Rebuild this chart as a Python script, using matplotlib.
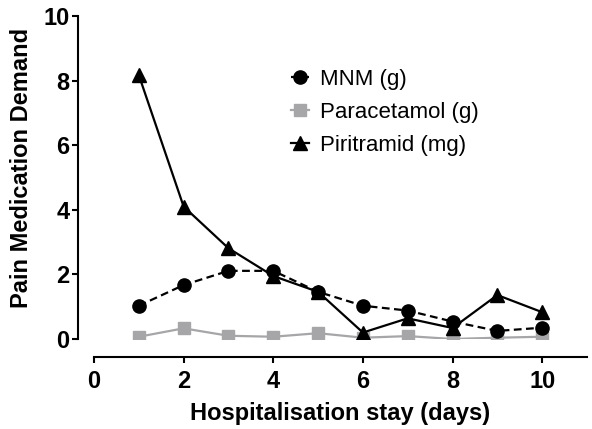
import matplotlib.pyplot as plt

plt.rcParams['font.family'] = ['Liberation Sans', 'DejaVu Sans']

days = [1, 2, 3, 4, 5, 6, 7, 8, 9, 10]
mnm = [1.03, 1.67, 2.11, 2.11, 1.46, 1.03, 0.88, 0.54, 0.25, 0.35]
paracetamol = [0.07, 0.33, 0.10, 0.07, 0.18, 0.04, 0.09, 0.0, 0.04, 0.07]
piritramid = [8.17, 4.10, 2.81, 1.95, 1.46, 0.20, 0.64, 0.34, 1.36, 0.83]

W, H = 592, 429
fig = plt.figure(figsize=(W / 100, H / 100), dpi=100)
ax = fig.add_axes([94 / W, (H - 339) / H, (587 - 94) / W, (339 - 16) / H])

ax.plot(days, mnm, color='black', ls=(0, (3.5, 2)), lw=1.6, marker='o',
        ms=9.5, label='MNM (g)', zorder=3)
ax.plot(days, paracetamol, color='#a6a6a8', lw=1.6, marker='s',
        ms=9, label='Paracetamol (g)', zorder=2)
ax.plot(days, piritramid, color='black', lw=1.6, marker='^',
        ms=9.5, label='Piritramid (mg)', zorder=4)

ax.set_xlim(0, 11)
ax.set_ylim(0, 10)
ax.set_xticks([0, 2, 4, 6, 8, 10])
ax.set_yticks([0, 2, 4, 6, 8, 10])
ax.spines['top'].set_visible(False)
ax.spines['right'].set_visible(False)
ax.spines['left'].set_position(('outward', 11.5))
ax.spines['bottom'].set_position(('outward', 13))
ax.spines['left'].set_linewidth(1.5)
ax.spines['bottom'].set_linewidth(1.5)
ax.spines['left'].set_bounds(0, 10)
ax.spines['bottom'].set_bounds(0, 11)
ax.tick_params(width=1.5, length=4.5, labelsize=17)
ax.tick_params(axis='y', pad=1.5)
ax.tick_params(axis='x', pad=5)
for lab in ax.get_xticklabels() + ax.get_yticklabels():
    lab.set_fontweight('bold')

ax.set_xlabel('Hospitalisation stay (days)', fontsize=17, fontweight='bold', labelpad=6)
ax.set_ylabel('Pain Medication Demand', fontsize=17, fontweight='bold')
ax.yaxis.set_label_coords(-0.124, 0.53)

ax.legend(loc='upper left', bbox_to_anchor=(0.36, 0.897), frameon=False,
          fontsize=16, handlelength=0.8, handletextpad=0.5, labelspacing=0.53)

fig.savefig('out.png', dpi=100)
